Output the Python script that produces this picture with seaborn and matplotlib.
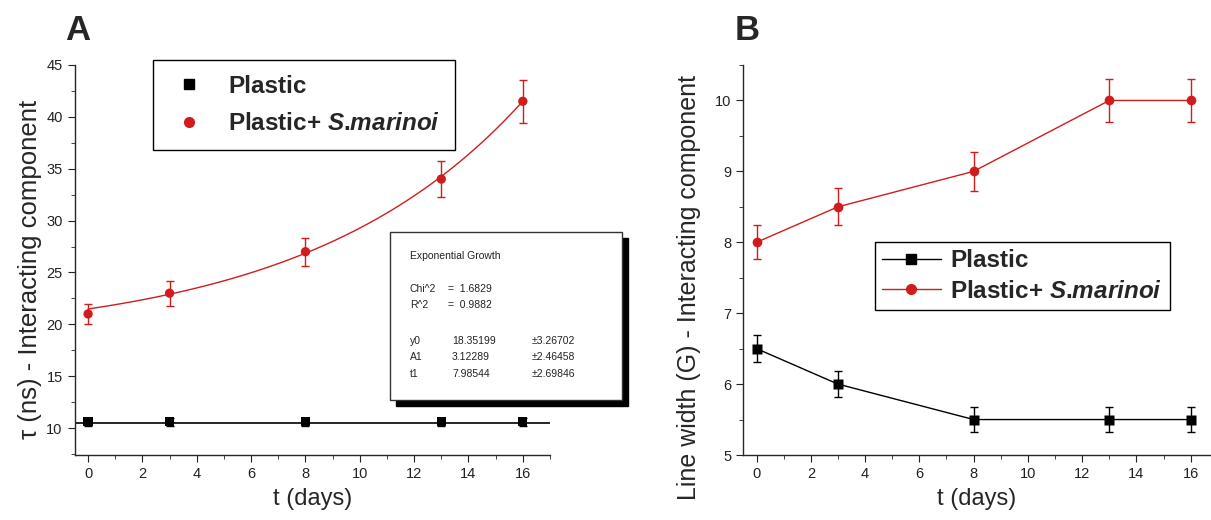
import numpy as np
import pandas as pd
import matplotlib
matplotlib.use("Agg")
import matplotlib.pyplot as plt
import seaborn as sns
from matplotlib.patches import Rectangle
from matplotlib.ticker import MultipleLocator
from matplotlib.lines import Line2D

# ---------------- data ----------------
days = [0, 3, 8, 13, 16]

# Panel A: tau (ns)
tau_plastic = [10.6, 10.6, 10.6, 10.6, 10.6]
tau_plastic_err = [0.4, 0.4, 0.4, 0.4, 0.4]
tau_plastic_fit = 10.5
tau_marinoi = [21.0, 23.0, 27.0, 34.0, 41.5]
tau_marinoi_err = [1.0, 1.2, 1.35, 1.75, 2.1]

# exponential growth fit parameters (as printed on the chart)
fit_y0, fit_A1, fit_t1 = 18.35199, 3.12289, 7.98544
fit_y0_err, fit_A1_err, fit_t1_err = 3.26702, 2.46458, 2.69846
fit_chi2, fit_r2 = 1.6829, 0.9882

# Panel B: line width (G)
lw_plastic = [6.5, 6.0, 5.5, 5.5, 5.5]
lw_plastic_err = [0.19, 0.18, 0.17, 0.17, 0.17]
lw_marinoi = [8.0, 8.5, 9.0, 10.0, 10.0]
lw_marinoi_err = [0.24, 0.26, 0.27, 0.3, 0.3]

RED = "#d01c1c"
BLACK = "#000000"

sns.set_style("ticks")
plt.rcParams["font.family"] = ["Liberation Sans", "DejaVu Sans"]
plt.rcParams["axes.linewidth"] = 1.0
plt.rcParams["mathtext.fontset"] = "custom"
plt.rcParams["mathtext.rm"] = "Liberation Sans"
plt.rcParams["mathtext.bf"] = "Liberation Sans:bold"
plt.rcParams["mathtext.it"] = "Liberation Sans:italic"
plt.rcParams["mathtext.bfit"] = "Liberation Sans:bold:italic"

fig = plt.figure(figsize=(12.11, 5.2), dpi=100)
W, H = 1211, 520

def px_axes(l, t, r, b):
    return fig.add_axes([l / W, 1 - b / H, (r - l) / W, (b - t) / H])

axA = px_axes(74.5, 65, 550, 455)
axB = px_axes(743, 65, 1211, 455)

dfA = pd.DataFrame({"t": days * 2,
                    "v": tau_plastic + tau_marinoi,
                    "e": tau_plastic_err + tau_marinoi_err,
                    "s": ["Plastic"] * 5 + ["Plastic+ S.marinoi"] * 5})
dfB = pd.DataFrame({"t": days * 2,
                    "v": lw_plastic + lw_marinoi,
                    "e": lw_plastic_err + lw_marinoi_err,
                    "s": ["Plastic"] * 5 + ["Plastic+ S.marinoi"] * 5})
pal = {"Plastic": BLACK, "Plastic+ S.marinoi": RED}
mk = {"Plastic": "s", "Plastic+ S.marinoi": "o"}
label_marinoi = "Plastic+ $\\mathbfit{S}$.$\\mathbfit{marinoi}$"

# ---------------- panel A ----------------
ax = axA
ax.set_xlim(-0.5, 17)
ax.set_ylim(7.4, 45)
ax.axhline(tau_plastic_fit, color=BLACK, lw=1.2, zorder=1)
xs = np.linspace(0, 16, 200)
ax.plot(xs, fit_y0 + fit_A1 * np.exp(xs / fit_t1), color=RED, lw=1.0, zorder=1)
for name, sub in dfA.groupby("s"):
    ax.errorbar(sub["t"], sub["v"], yerr=sub["e"], fmt="none",
                ecolor=pal[name], elinewidth=1.0, capsize=3, capthick=1.0, zorder=2)
sns.scatterplot(data=dfA, x="t", y="v", hue="s", style="s", palette=pal,
                markers=mk, s=45, edgecolor="none", legend=False, ax=ax, zorder=3)
ax.set_xlabel("t (days)", fontsize=17, labelpad=5)
ax.set_ylabel("τ (ns) - Interacting component", fontsize=18.5)
ax.yaxis.set_label_coords(-0.068, 0.475)
ax.xaxis.set_major_locator(MultipleLocator(2))
ax.xaxis.set_minor_locator(MultipleLocator(1))
ax.yaxis.set_minor_locator(MultipleLocator(2.5))
ax.set_yticks(range(10, 46, 5))
sns.despine(ax=ax)
ax.tick_params(which="both", direction="out", labelsize=10.5, colors="#222222")
ax.tick_params(which="major", length=5)
ax.tick_params(which="minor", length=3)

hA = [Line2D([], [], ls="none", marker="s", color=BLACK, ms=7),
      Line2D([], [], ls="none", marker="o", color=RED, ms=7)]
legA = ax.legend(hA, ["Plastic", label_marinoi],
                 loc="upper left", bbox_to_anchor=((153 - 74.5) / 475.5, 1 + 5 / 390),
                 frameon=True, fancybox=False, edgecolor=BLACK, framealpha=1,
                 prop={"weight": "bold", "size": 17.5}, handletextpad=0.7,
                 borderpad=0.6, labelspacing=0.6, handlelength=1.8, borderaxespad=0)
legA.get_frame().set_linewidth(1.0)

# stats box with shadow
sx0, sy0, sx1, sy1 = 390, 232, 622, 400
fig.patches.append(Rectangle(((sx0 + 6) / W, 1 - (sy1 + 6) / H), (sx1 - sx0) / W, (sy1 - sy0) / H,
                             transform=fig.transFigure, facecolor=BLACK, edgecolor=BLACK, zorder=5))
fig.patches.append(Rectangle((sx0 / W, 1 - sy1 / H), (sx1 - sx0) / W, (sy1 - sy0) / H,
                             transform=fig.transFigure, facecolor="white", edgecolor="#333333",
                             lw=1.0, zorder=6))
def ftxt(x, y, s):
    fig.text(x / W, 1 - y / H, s, fontsize=7.5, color="#222222", va="center", ha="left", zorder=7)
ftxt(410, 256, "Exponential Growth")
ftxt(410, 289, "Chi^2")
ftxt(448, 289, f"=  {fit_chi2:.4f}")
ftxt(410, 305, "R^2")
ftxt(448, 305, f"=  {fit_r2:.4f}")
ftxt(410, 341, "y0")
ftxt(452, 341, f"{fit_y0:.5f}")
ftxt(410, 357, "A1")
ftxt(452, 357, f"{fit_A1:.5f}")
ftxt(410, 374, "t1")
ftxt(452, 374, f"{fit_t1:.5f}")
ftxt(532, 341, f"±{fit_y0_err:.5f}")
ftxt(532, 357, f"±{fit_A1_err:.5f}")
ftxt(532, 374, f"±{fit_t1_err:.5f}")

# ---------------- panel B ----------------
ax = axB
ax.set_xlim(-0.5, 16.75)
ax.set_ylim(5, 10.5)
for name, sub in dfB.groupby("s"):
    ax.errorbar(sub["t"], sub["v"], yerr=sub["e"], fmt="none",
                ecolor=pal[name], elinewidth=1.0, capsize=3, capthick=1.0, zorder=2)
sns.lineplot(data=dfB, x="t", y="v", hue="s", style="s", palette=pal,
             markers=mk, dashes=False, markersize=7, markeredgecolor="none",
             linewidth=1.0, legend=False, ax=ax, zorder=3)
ax.set_xlabel("t (days)", fontsize=17, labelpad=5)
ax.set_ylabel("Line width (G) - Interacting component", fontsize=18)
ax.yaxis.set_label_coords(-0.09, 0.43)
ax.xaxis.set_major_locator(MultipleLocator(2))
ax.xaxis.set_minor_locator(MultipleLocator(1))
ax.yaxis.set_major_locator(MultipleLocator(1))
ax.yaxis.set_minor_locator(MultipleLocator(0.5))
sns.despine(ax=ax)
ax.tick_params(which="both", direction="out", labelsize=10.5, colors="#222222")
ax.tick_params(which="major", length=5)
ax.tick_params(which="minor", length=3)

hB = [Line2D([], [], color=BLACK, marker="s", ms=7, lw=1.0),
      Line2D([], [], color=RED, marker="o", ms=7, lw=1.0)]
legB = ax.legend(hB, ["Plastic", label_marinoi],
                 loc="upper left", bbox_to_anchor=((875 - 743) / 468, 1 - (242 - 65) / 390),
                 frameon=True, fancybox=False, edgecolor=BLACK, framealpha=1,
                 prop={"weight": "bold", "size": 17.5}, handletextpad=0.4,
                 borderpad=0.3, labelspacing=0.3, handlelength=2.4, borderaxespad=0)
legB.get_frame().set_linewidth(1.0)

fig.text(65 / W, 1 - 30 / H, "A", fontsize=25, fontweight="bold", va="center", ha="left")
fig.text(735 / W, 1 - 30 / H, "B", fontsize=25, fontweight="bold", va="center", ha="left")

fig.savefig("out.png", dpi=100)
